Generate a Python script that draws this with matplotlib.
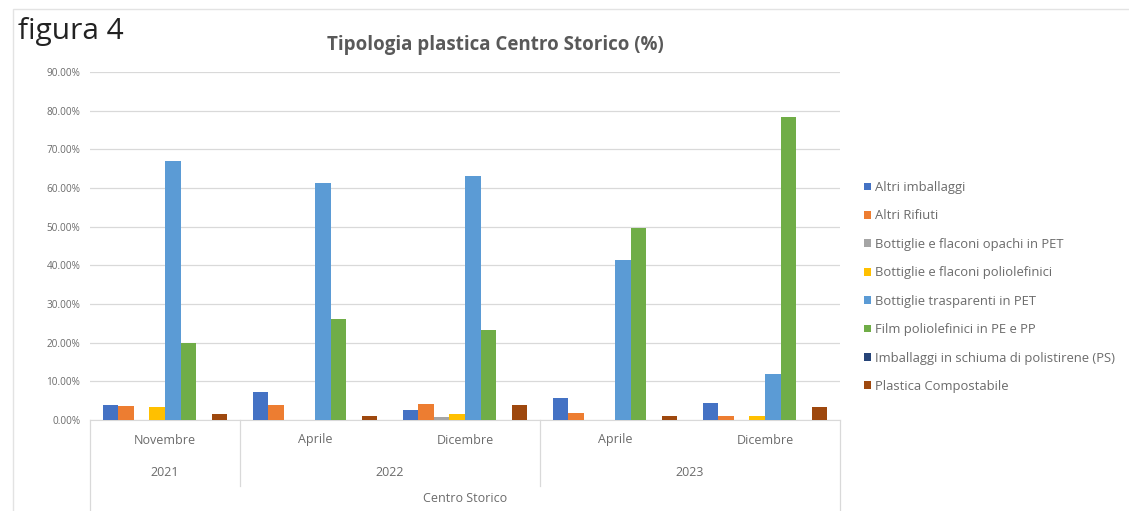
import matplotlib
matplotlib.use("Agg")
import matplotlib.pyplot as plt
import matplotlib.transforms as mtransforms
from matplotlib.patches import Rectangle
import numpy as np

plt.rcParams['font.family'] = ['Open Sans', 'DejaVu Sans']

months = ["Novembre", "Aprile", "Dicembre", "Aprile", "Dicembre"]
years = ["2021", "2022", "2023"]
year_spans = [1, 2, 2]
area = "Centro Storico"

series_names = [
    "Altri imballaggi",
    "Altri Rifiuti",
    "Bottiglie e flaconi opachi in PET",
    "Bottiglie e flaconi poliolefinici",
    "Bottiglie trasparenti in PET",
    "Film poliolefinici in PE e PP",
    "Imballaggi in schiuma di polistirene (PS)",
    "Plastica Compostabile",
]
altri_imballaggi = [3.9, 7.2, 2.7, 5.7, 4.3]
altri_rifiuti = [3.7, 4.0, 4.1, 1.8, 1.0]
opachi_pet = [0.0, 0.0, 0.7, 0.0, 0.0]
poliolefinici = [3.3, 0.0, 1.6, 0.0, 1.0]
trasparenti_pet = [66.9, 61.3, 63.1, 41.5, 11.8]
film_pe_pp = [20.0, 26.0, 23.4, 49.6, 78.3]
schiuma_ps = [0.0, 0.0, 0.0, 0.0, 0.0]
compostabile = [1.5, 1.1, 3.9, 1.0, 3.3]

series_values = [altri_imballaggi, altri_rifiuti, opachi_pet, poliolefinici,
                 trasparenti_pet, film_pe_pp, schiuma_ps, compostabile]
colors = ["#4472C4", "#ED7D31", "#A5A5A5", "#FFC000",
          "#5B9BD5", "#70AD47", "#264478", "#9E480E"]

W, H = 1129, 511
fig = plt.figure(figsize=(W / 100, H / 100), dpi=100)
fig.patch.set_facecolor("white")

# faint chart border
fig.add_artist(Rectangle((13 / W, -0.05), 1.2, 1 - 9 / H + 0.05, transform=fig.transFigure,
                         fill=False, edgecolor="#E3E3E3", linewidth=1.0))

ax = fig.add_axes([90 / W, 1 - 420 / H, 750 / W, (420 - 72) / H])
n = len(months)
nser = len(series_values)
bw = 0.104
x = np.arange(n)
handles = []
for i, (vals, c) in enumerate(zip(series_values, colors)):
    offs = (i - (nser - 1) / 2) * bw
    b = ax.bar(x + offs, np.array(vals) / 100.0, width=bw, color=c, label=series_names[i], zorder=3)
    handles.append(b)

txt_c = "#6b6b6b"
ax.set_xlim(-0.5, n - 0.5)
ax.set_ylim(0, 0.9)
ax.set_yticks(np.arange(0, 0.91, 0.1))
ax.set_yticklabels([f"{v*100:.2f}%" for v in np.arange(0, 0.91, 0.1)])
ax.tick_params(axis="y", length=0, labelsize=7.2, labelcolor=txt_c, pad=7)
ax.set_xticks([])
ax.grid(axis="y", color="#D9D9D9", linewidth=0.9, zorder=0)
for s in ["top", "right", "left"]:
    ax.spines[s].set_visible(False)
ax.spines["bottom"].set_color("#D9D9D9")

# multi-level category axis
trans = mtransforms.blended_transform_factory(ax.transData, fig.transFigure)
lc = "#D9D9D9"
cat_fs = 9.0
for i, m in enumerate(months):
    ax.text(i, 1 - 440 / H, m, transform=trans, ha="center", va="center",
            fontsize=cat_fs, color=txt_c)
start = 0
for y, span in zip(years, year_spans):
    ax.text(start + (span - 1) / 2, 1 - 472 / H, y, transform=trans, ha="center", va="center",
            fontsize=cat_fs, color=txt_c)
    start += span
ax.text((n - 1) / 2, 1 - 498 / H, area, transform=trans, ha="center", va="center",
        fontsize=cat_fs, color=txt_c)
# separators
edges = np.cumsum([0] + year_spans) - 0.5
for k, e in enumerate(edges):
    y_end = 1 - 511 / H if (k == 0 or k == len(edges) - 1) else 1 - 486 / H
    ax.plot([e, e], [1 - 420 / H, y_end], transform=trans, color=lc, linewidth=0.9, clip_on=False)

# titles
fig.text(18 / W, 1 - 32 / H, "figura 4", fontsize=21.5, color="#222222", ha="left", va="center",
         fontweight="normal")
fig.text(495 / W, 1 - 45 / H, "Tipologia plastica Centro Storico (%)", fontsize=13.5,
         color="#595959", ha="center", va="center", fontweight="bold")

leg = fig.legend(handles=handles, labels=series_names, loc="center left",
                 bbox_to_anchor=(859 / W, 1 - 287 / H), frameon=False, fontsize=9.4,
                 labelcolor=txt_c, handlelength=0.55, handleheight=0.55,
                 handletextpad=0.25, labelspacing=1.18, borderaxespad=0)

fig.savefig("out.png", dpi=100, facecolor="white")
